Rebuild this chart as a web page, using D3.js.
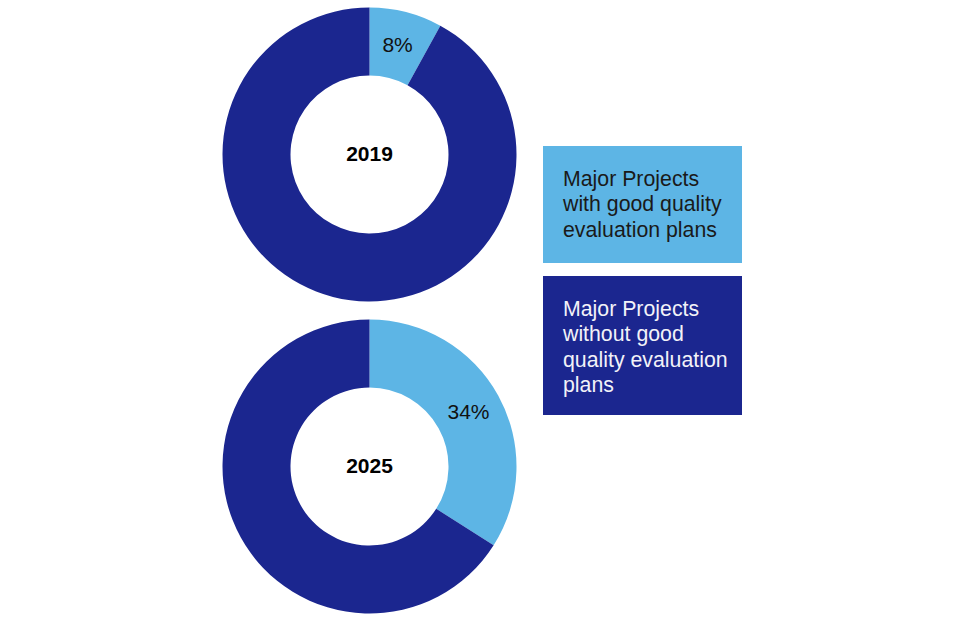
<!DOCTYPE html>
<html>
<head>
<meta charset="utf-8">
<script src="https://cdnjs.cloudflare.com/ajax/libs/d3/7.8.5/d3.min.js"></script>
<style>
  body { margin: 0; background: #fff; }
  svg { display: block; font-family: "Liberation Sans", Arial, sans-serif; }
</style>
</head>
<body>
<div id="chart"></div>
<script>
// data
let years = ["2019", "2025"];
let goodShare = [8, 34];
let categories = ["Major Projects with good quality evaluation plans",
                  "Major Projects without good quality evaluation plans"];
let legendLines = [
    ["Major Projects", "with good quality", "evaluation plans"],
    ["Major Projects", "without good", "quality evaluation", "plans"]
];
let colors = ["#5db5e5", "#1b268f"];

let w = 960;
let h = 640;

let svg = d3.select("#chart")
    .append("svg")
    .attr("width", w)
    .attr("height", h);

let color = d3.scaleOrdinal().domain(categories).range(colors);

let pie = d3.pie().sort(null).value(function (d) { return d.value; });
let arc = d3.arc().innerRadius(79).outerRadius(147);

// vertical placement of the two donuts
let cy = d3.scalePoint().domain(years).range([154.5, 466.5]);

years.forEach(function (yr, i) {
    let parts = [
        {cat: categories[0], value: goodShare[i]},
        {cat: categories[1], value: 100 - goodShare[i]}
    ];
    let g = svg.append("g")
        .attr("transform", "translate(369.5," + cy(yr) + ")");

    let arcs = pie(parts);

    g.selectAll("path")
        .data(arcs)
        .enter()
        .append("path")
        .attr("d", arc)
        .attr("fill", function (d) { return color(d.data.cat); });

    // percentage on the light slice only
    g.append("text")
        .attr("transform", "translate(" + arc.centroid(arcs[0]) + ")")
        .attr("text-anchor", "middle")
        .attr("dy", "0.35em")
        .attr("font-size", "21px")
        .attr("fill", "#111")
        .text(goodShare[i] + "%");

    g.append("text")
        .attr("text-anchor", "middle")
        .attr("dy", "0.33em")
        .attr("font-size", "21px")
        .attr("font-weight", "bold")
        .attr("fill", "#000")
        .text(yr);
});

// legend boxes
let boxTop = [146, 276];
let boxH = [117, 139];
let textCol = ["#1a1a1a", "#f2f2f8"];

categories.forEach(function (c, i) {
    let lg = svg.append("g").attr("transform", "translate(543," + boxTop[i] + ")");
    lg.append("rect")
        .attr("width", 199)
        .attr("height", boxH[i])
        .attr("fill", color(c));
    lg.selectAll("text")
        .data(legendLines[i])
        .enter()
        .append("text")
        .attr("x", 20)
        .attr("y", function (d, j) { return 39.5 + j * 25.5; })
        .attr("font-size", "21.3px")
        .attr("fill", textCol[i])
        .text(function (d) { return d; });
});
</script>
</body>
</html>
